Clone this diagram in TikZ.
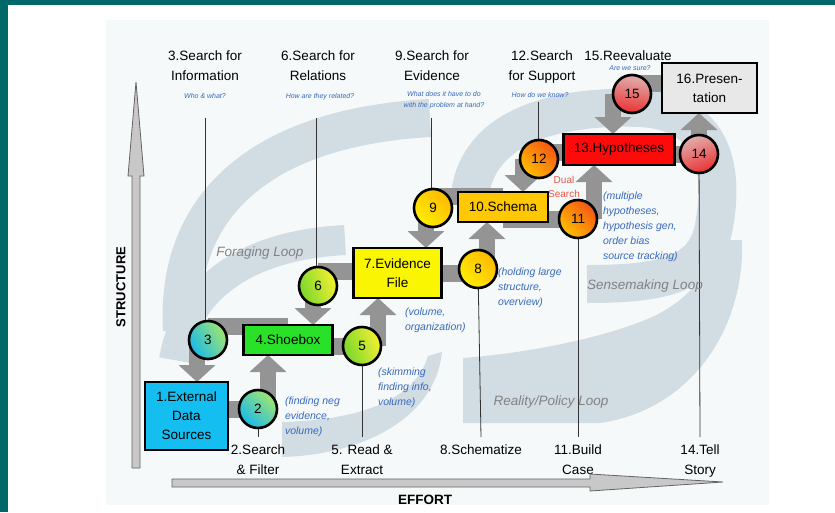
\documentclass[tikz,border=0pt]{standalone}
\usepackage{fontspec}
\setmainfont{Liberation Sans}
\usetikzlibrary{arrows.meta}
\pgfdeclarelayer{base}
\pgfdeclarelayer{back}
\pgfdeclarelayer{mid}
\pgfsetlayers{base,back,mid,main}
\definecolor{teal0}{RGB}{0,104,104}
\definecolor{panel}{RGB}{246,249,249}
\definecolor{swooshc}{RGB}{210,220,227}
\definecolor{arrowgrey}{RGB}{148,148,148}
\definecolor{noteblue}{RGB}{55,105,190}
\definecolor{loopgrey}{RGB}{130,130,130}
\definecolor{dualred}{RGB}{230,90,70}
\definecolor{axisgrey}{RGB}{200,200,200}
\definecolor{axisdark}{RGB}{100,100,100}
\definecolor{boxcyan}{RGB}{20,190,240}
\definecolor{boxgreen}{RGB}{40,225,40}
\definecolor{boxyellow}{RGB}{250,245,0}
\definecolor{boxgold}{RGB}{255,200,0}
\definecolor{boxred}{RGB}{255,10,10}
\definecolor{boxgrey}{RGB}{232,232,232}
\begin{document}
\begin{tikzpicture}[x=1pt,y=-1pt,
  every node/.style={inner sep=0pt, outer sep=0pt},
  lbl/.style={font=\fontsize{13.5}{19.5}\selectfont, align=center},
  box/.style={draw=black, line width=2.6pt, align=center, font=\fontsize{13.5}{19}\selectfont},
  circ/.style={circle, draw=black, line width=2.6pt, minimum size=38pt, font=\fontsize{13.5}{16}\selectfont},
  note/.style={text=noteblue, font=\itshape\fontsize{10.5}{15}\selectfont, align=left},
  tiny/.style={text=noteblue, font=\itshape\fontsize{7}{10.5}\selectfont, align=center},
  looplbl/.style={text=loopgrey, font=\itshape\fontsize{13.5}{16}\selectfont},
  garrow/.style={draw=arrowgrey, line width=16pt, -{Triangle[width=36pt,length=17pt]}},
  gband/.style={draw=arrowgrey, line width=17pt},
  thinline/.style={draw=black!80, line width=0.8pt},
  swoosh/.style={draw=swooshc, line width=36pt},
]
\useasboundingbox (0,0) rectangle (835,512);
\begin{pgfonlayer}{base}
\fill[white] (0,0) rectangle (835,512);
\fill[teal0] (0,0) rectangle (8,512);
\fill[teal0] (0,0) rectangle (835,5);
\fill[panel] (106,20) rectangle (769,505);
\end{pgfonlayer}

% boxes
\node[box, fill=boxcyan, minimum width=83pt, minimum height=68pt] (b1) at (186.5,416) {1.External\\Data\\Sources};
\node[box, fill=boxgreen, minimum width=89pt, minimum height=30pt] (b4) at (288,340) {4.Shoebox};
\node[box, fill=boxyellow, minimum width=88pt, minimum height=50pt] (b7) at (397.5,273) {7.Evidence\\File};
\node[box, fill=boxgold, minimum width=90pt, minimum height=30pt] (b10) at (503,207) {10.Schema};
\node[box, fill=boxred, minimum width=111pt, minimum height=31pt] (b13) at (619,149.5) {13.Hypotheses};
\node[box, fill=boxgrey, minimum width=95pt, minimum height=50pt] (b16) at (709.5,88) {16.Presen-\\tation};

% circles
\node[circ, top color={rgb,255:red,160;green,230;blue,110}, bottom color={rgb,255:red,25;green,185;blue,235}, shading angle=-45] (c2) at (258,409) {2};
\node[circ, top color={rgb,255:red,160;green,230;blue,110}, bottom color={rgb,255:red,25;green,185;blue,235}, shading angle=-60] (c3) at (208,340) {3};
\node[circ, top color={rgb,255:red,245;green,240;blue,50}, bottom color={rgb,255:red,120;green,215;blue,45}, shading angle=-70] (c5) at (362,346) {5};
\node[circ, top color={rgb,255:red,245;green,240;blue,50}, bottom color={rgb,255:red,120;green,215;blue,45}, shading angle=-70] (c6) at (318,286) {6};
\node[circ, top color={rgb,255:red,255;green,185;blue,0}, bottom color={rgb,255:red,255;green,238;blue,0}, shading angle=-45] (c8) at (478,269) {8};
\node[circ, top color={rgb,255:red,255;green,185;blue,0}, bottom color={rgb,255:red,255;green,238;blue,0}, shading angle=-45] (c9) at (433,208) {9};
\node[circ, top color={rgb,255:red,245;green,85;blue,20}, bottom color={rgb,255:red,255;green,190;blue,0}, shading angle=-45] (c11) at (578,219) {11};
\node[circ, top color={rgb,255:red,245;green,85;blue,20}, bottom color={rgb,255:red,255;green,190;blue,0}, shading angle=-45] (c12) at (539,159) {12};
\node[circ, top color={rgb,255:red,225;green,175;blue,175}, bottom color={rgb,255:red,235;green,50;blue,50}, shading angle=20] (c14) at (699,154) {14};
\node[circ, top color={rgb,255:red,225;green,175;blue,175}, bottom color={rgb,255:red,235;green,50;blue,50}, shading angle=-10] (c15) at (632,94) {15};

% top labels
\node[lbl, anchor=north] (l3) at (205,51) {3.Search for\\Information};
\node[tiny] (q3) at (205,96) {Who \& what?};
\node[lbl, anchor=north] (l6) at (318,51) {6.Search for\\Relations};
\node[tiny] (q6) at (320,97) {How are they related?};
\node[lbl, anchor=north] (l9) at (432,51) {9.Search for\\Evidence};
\node[tiny] (q9) at (444,100) {What does it have to do\\with the problem at hand?};
\node[lbl, anchor=north] (l12) at (542,51) {12.Search\\for Support};
\node[tiny] (q12) at (540,95) {How do we know?};
\node[lbl, anchor=north] (l15) at (628,51) {15.Reevaluate};
\node[tiny] (q15) at (630,68) {Are we sure?};

% bottom labels
\node[lbl, anchor=north] (bl2) at (258,445) {2.Search\\\& Filter};
\node[lbl, anchor=north] (bl5) at (362,445) {5. Read \&\\Extract};
\node[lbl, anchor=north] (bl8) at (481,445) {8.Schematize};
\node[lbl, anchor=north] (bl11) at (578,445) {11.Build\\Case};
\node[lbl, anchor=north] (bl14) at (700,445) {14.Tell\\Story};

% notes
\node[note, anchor=north west] (n2) at (285,397) {(finding neg\\evidence,\\volume)};
\node[note, anchor=north west] (n5) at (378,368) {(skimming\\finding info,\\volume)};
\node[note, anchor=north west] (n7) at (405,308) {(volume,\\organization)};
\node[note, anchor=north west] (n8) at (498,268) {(holding large\\structure,\\overview)};
\node[note, anchor=north west] (n11) at (603,192) {(multiple\\hypotheses,\\hypothesis gen,\\order bias\\source tracking)};
\node[text=dualred, font=\fontsize{10}{14}\selectfont, align=center, anchor=north] (dual) at (564,176) {Dual\\Search};

% loop labels
\node[looplbl] (fl) at (260,253) {Foraging Loop};
\node[looplbl] (sl) at (645,286) {Sensemaking Loop};
\node[looplbl] (rl) at (551,402) {Reality/Policy Loop};

% axes
\node[font=\bfseries\fontsize{13}{13}\selectfont, rotate=90] (ystr) at (121,287) {STRUCTURE};
\node[font=\bfseries\fontsize{13.5}{14}\selectfont] (xeff) at (425,500) {EFFORT};
\filldraw[fill=axisgrey, draw=axisdark, line width=0.8pt] (132,176) -- (128,176) -- (136,82) -- (144,176) -- (140,176) -- (140,468) -- (132,468) -- cycle;
\filldraw[fill=axisgrey, draw=axisdark, line width=0.8pt] (172,479) -- (590,479) -- (590,474) -- (723,482) -- (590,491) -- (590,487) -- (172,487) -- cycle;

% free ends of top lines
\coordinate (t3) at (205,118);
\coordinate (t6) at (316,118);
\coordinate (t9) at (431,118);
\coordinate (t12) at (538,102);

\begin{pgfonlayer}{back}
  \draw[swoosh, line width=38pt] (182,330) .. controls (175,210) and (255,128) .. (430,118);
  \draw[swoosh, line width=30pt] (174,360) .. controls (187,285) and (250,245) .. (345,240);
  \fill[swooshc] (282,457) .. controls (360,455) and (435,420) .. (442,352) -- (428,356) .. controls (415,400) and (360,420) .. (282,422) -- cycle;
  \draw[swoosh, line width=38pt] (470,195) .. controls (478,125) and (560,105) .. (640,108) .. controls (720,112) and (725,180) .. (712,235) .. controls (700,275) and (660,284) .. (587,284);
  \fill[swooshc] (463,358) .. controls (540,352) and (610,335) .. (650,318) .. controls (690,300) and (712,270) .. (716,240) -- (742,240) .. controls (745,330) and (690,410) .. (600,423) -- (463,423) -- cycle;
\end{pgfonlayer}

\begin{pgfonlayer}{mid}
  % connector bands
  \draw[gband] (b1.center |- c2.center) -- (c2.center);
  \draw[gband] ([yshift=14pt]c3.center) -- ([yshift=14pt]c3.center -| b4.center);
  \draw[gband] (b4.center |- c5.center) -- (c5.center);
  \draw[gband] ([yshift=15pt]c6.center) -- ([yshift=15pt]c6.center -| b7.center);
  \draw[gband] (b7.center) -- (b7.center -| c8.center);
  \draw[gband] ([yshift=12pt]c9.center) -- ([yshift=12pt]c9.center -| b10.center);
  \draw[gband] (b10.center |- c11.center) -- (c11.center);
  \draw[gband] ([yshift=7pt]c12.center) -- ([yshift=7pt]c12.center -| b13.center);
  \draw[gband] (b13.center |- c14.center) -- (c14.center);
  \draw[gband] ([yshift=11pt]c15.center) -- ([yshift=11pt]c15.center -| b16.center);
  % arrows
  \draw[garrow] ([xshift=10pt]c2.center) -- ([xshift=10pt]c2.center |- b4.south);
  \draw[garrow] ([xshift=-11pt]c3.center) -- ([xshift=-11pt]c3.center |- b1.north);
  \draw[garrow] ([xshift=16pt]c5.center) -- ([xshift=16pt]c5.center |- b7.south);
  \draw[garrow] ([xshift=-5pt]c6.center) -- ([xshift=-5pt]c6.center |- b4.north);
  \draw[garrow] ([xshift=9pt]c8.center) -- ([xshift=9pt]c8.center |- b10.south);
  \draw[garrow] ([xshift=-7pt]c9.center) -- ([xshift=-7pt]c9.center |- b7.north);
  \draw[garrow] ([xshift=16pt]c11.center) -- ([xshift=16pt]c11.center |- b13.south);
  \draw[garrow] ([xshift=-16pt]c12.center) -- ([xshift=-16pt]c12.center |- b10.north);
  \draw[garrow] (c14.center) -- (c14.center |- b16.south);
  \draw[garrow] ([xshift=-19pt]c15.center) -- ([xshift=-19pt]c15.center |- b13.north);
  % thin lines
  \draw[thinline] (t3) -- (t3 |- c3.center);
  \draw[thinline] (t6) -- (t6 |- c6.center);
  \draw[thinline] (t9) -- (t9 |- c9.center);
  \draw[thinline] (t12) -- (t12 |- c12.center);
  \draw[thinline] (c2.center) -- ([yshift=8pt]bl2.north);
  \draw[thinline] (c5.center) -- ([yshift=8pt]bl5.north);
  \draw[thinline] (c8.center) -- ([yshift=8pt]bl8.north);
  \draw[thinline] (c11.center) -- ([yshift=8pt]bl11.north);
  \draw[thinline] (c14.center) -- ([yshift=8pt]bl14.north);
\end{pgfonlayer}
\end{tikzpicture}
\end{document}
